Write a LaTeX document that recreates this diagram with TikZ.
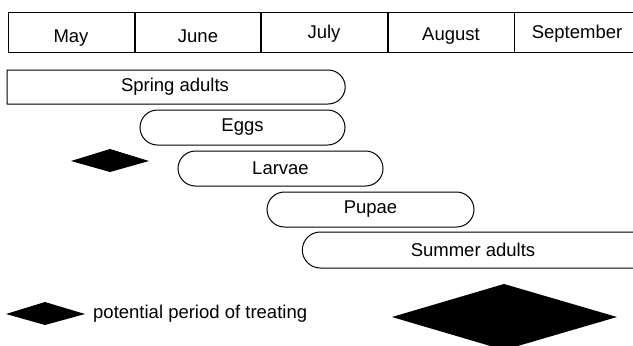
\documentclass[tikz,border=0pt]{standalone}
\usepackage{fontspec}
\setmainfont{Liberation Sans}
\usetikzlibrary{shapes.misc}
\begin{document}
\begin{tikzpicture}[x=1pt,y=-1pt,
  lbl/.style={font=\fontsize{18.5}{22}\selectfont, inner sep=0pt},
  month/.style={lbl, anchor=base},
  bar/.style={draw, line width=1pt, rounded rectangle, minimum height=35pt, inner sep=0pt, font=\fontsize{18.5}{22}\selectfont},
  divider/.style={draw, line width=1.6pt}
]
\useasboundingbox (0,0) rectangle (633,346);
\clip (0,0) rectangle (633,346);
% month strip
\draw[line width=1pt] (8,12) rectangle (645,52);
\foreach \x in {135,261,388}{
  \draw[divider] (\x,12) -- (\x,52);
}
\draw[line width=1pt] (514,12) -- (514,52);
\node[month] (may) at (71,42.5) {May};
\node[month] (june) at (198,42.5) {June};
\node[month] (july) at (324,38.5) {July};
\node[month] (aug) at (451,40.5) {August};
\node[month] (sep) at (577,38.5) {September};
% bars
\node[bar, rounded rectangle west arc=none, minimum width=338pt, minimum height=34pt] (spring) at (175,87) {Spring adults};
\node[bar, minimum width=205pt] (eggs) at (242.5,127.5) {Eggs};
\node[bar, minimum width=205pt] (larvae) at (280.5,168.5) {Larvae};
\node[bar, minimum width=207pt] (pupae) at (370.5,209.5) {Pupae};
\node[bar, rounded rectangle east arc=none, minimum width=340pt, minimum height=36pt] (summer) at (473,250) {Summer adults};
% diamonds
\fill (71,161) -- (110,149) -- (149,161) -- (110,172) -- cycle;
\fill (6,314) -- (45,302) -- (85,314) -- (45,325) -- cycle;
\fill (392,317) -- (504,284) -- (617,317) -- (504,350) -- cycle;
\node[lbl, anchor=west] (legend) at (93,314) {potential period of treating};
\end{tikzpicture}
\end{document}
